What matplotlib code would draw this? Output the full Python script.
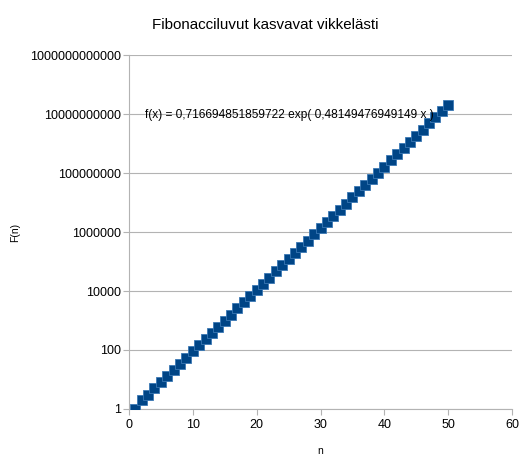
import matplotlib
matplotlib.use('Agg')
import matplotlib.pyplot as plt
from matplotlib.ticker import FixedLocator, FuncFormatter, NullLocator

plt.rcParams['font.family'] = ['Liberation Sans', 'DejaVu Sans']

n = list(range(1, 51))
fib = [1, 2, 3, 5, 8, 13, 21, 34, 55, 89, 144, 233, 377, 610, 987,
       1597, 2584, 4181, 6765, 10946, 17711, 28657, 46368, 75025, 121393,
       196418, 317811, 514229, 832040, 1346269, 2178309, 3524578, 5702887,
       9227465, 14930352, 24157817, 39088169, 63245986, 102334155,
       165580141, 267914296, 433494437, 701408733, 1134903170, 1836311903,
       2971215073, 4807526976, 7778742049, 12586269025, 20365011074]

yticks = [1, 100, 10000, 1000000, 100000000, 10000000000, 1000000000000]
xticks = [0, 10, 20, 30, 40, 50, 60]

fig = plt.figure(figsize=(5.22, 4.59), dpi=100)
ax = fig.add_axes([0.247, 0.109, 0.734, 0.771])

ax.plot(n, fib, linestyle='none', marker='s', markersize=7.0,
        markerfacecolor='#004586', markeredgecolor='#3a78b4', markeredgewidth=0.6,
        zorder=3)

ax.set_yscale('log')
ax.set_ylim(1, 1e12)
ax.set_xlim(0, 60)
ax.yaxis.set_major_locator(FixedLocator(yticks))
ax.yaxis.set_minor_locator(NullLocator())
ax.yaxis.set_major_formatter(FuncFormatter(lambda v, p: '%d' % round(v)))
ax.set_xticks(xticks)

ax.grid(axis='y', color='#b3b3b3', linewidth=0.8)
ax.set_axisbelow(True)
for s in ['top', 'right']:
    ax.spines[s].set_visible(False)
for s in ['left', 'bottom']:
    ax.spines[s].set_color('#b3b3b3')
    ax.spines[s].set_linewidth(0.8)
ax.tick_params(colors='#b3b3b3', labelcolor='black', labelsize=9, length=4, width=0.8)
ax.tick_params(axis='y', pad=2)
ax.tick_params(axis='x', pad=3)

ax.set_xlabel('n', fontsize=7.5)
ax.set_ylabel('F(n)', fontsize=7.5)
ax.xaxis.set_label_coords(0.5, -0.106)
ax.yaxis.set_label_coords(-0.285, 0.5)

ax.text(0.042, 0.830, 'f(x) = 0,716694851859722 exp( 0,48149476949149 x )',
        transform=ax.transAxes, fontsize=8.6, va='center', ha='left')

fig.text(0.508, 0.945, 'Fibonacciluvut kasvavat vikkelästi', fontsize=10.9,
         ha='center', va='center')

fig.savefig('out.png', dpi=100)
